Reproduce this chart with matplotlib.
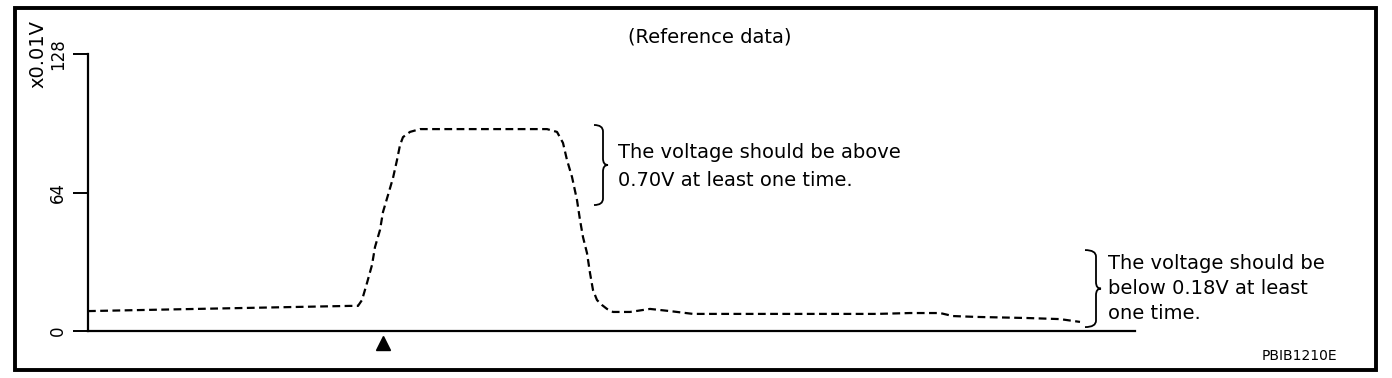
# Reference voltage trace (sensor signal, x0.01V)

import numpy as np
import matplotlib.pyplot as plt
from matplotlib.patches import Rectangle
from matplotlib.path import Path
from matplotlib.patches import PathPatch

# Trace: time (arbitrary units) and voltage (x0.01V)
t = [0, 152, 262, 270, 274, 279, 284, 287, 292, 295, 300, 305, 309, 312, 315,
     322, 332, 459, 469, 475, 479, 484, 489, 492, 495, 499, 502, 505, 509, 514,
     519, 525, 542, 562, 582, 605, 789, 822, 852, 865, 889, 939, 972, 992]
volts = [9.2, 10.6, 11.6, 11.6, 14.3, 22.2, 30.5, 38.8, 46.7, 55.0, 62.8, 70.7,
         79.0, 85.9, 89.6, 92.0, 93.3, 93.3, 92.0, 86.9, 79.0, 71.2, 60.5, 51.3,
         43.4, 36.0, 26.8, 18.9, 14.3, 12.0, 10.2, 8.8, 8.8, 10.2, 9.2, 7.9, 7.9,
         8.3, 8.3, 6.9, 6.5, 6.0, 5.5, 4.2]
y_ticks = [0, 64, 128]
y_labels = ['0', '64', '128']
trigger_t = 295

note_high = 'The voltage should be above\n0.70V at least one time.'
note_low = 'The voltage should be\nbelow 0.18V at least\none time.'

W, H = 1392, 378
fig = plt.figure(figsize=(W / 100, H / 100), dpi=100)
ax = fig.add_axes([88 / W, 47 / H, 1047 / W, 277 / H])

ax.plot(t, volts, color='black', lw=1.6, linestyle=(0, (3.5, 2)))
ax.set_xlim(0, 1047)
ax.set_ylim(0, 128)

for s in ['top', 'right']:
    ax.spines[s].set_visible(False)
for s in ['left', 'bottom']:
    ax.spines[s].set_linewidth(1.6)
ax.set_xticks([])
ax.set_yticks(y_ticks)
ax.set_yticklabels(y_labels, rotation=90, va='center', fontsize=12)
ax.tick_params(axis='y', length=11, width=1.4, pad=4)

# trigger marker below the axis
ax.plot([trigger_t], [-5.6], marker='^', color='black', markersize=10, clip_on=False)


def brace(x_end, x_mid, x_tip, y0, y1, r):
    # right-pointing curly brace, r is the curl height in data units
    ym = (y0 + y1) / 2
    verts = [(x_end, y1), (x_mid, y1), (x_mid, y1 - r),
             (x_mid, ym + r), (x_mid, ym), (x_tip, ym),
             (x_mid, ym), (x_mid, ym - r),
             (x_mid, y0 + r), (x_mid, y0), (x_end, y0)]
    codes = [Path.MOVETO, Path.CURVE3, Path.CURVE3,
             Path.LINETO, Path.CURVE3, Path.CURVE3,
             Path.CURVE3, Path.CURVE3,
             Path.LINETO, Path.CURVE3, Path.CURVE3]
    ax.add_patch(PathPatch(Path(verts, codes), fill=False, lw=1.3,
                           edgecolor='black', clip_on=False))


brace(506, 515, 520, 58.2, 95.2, 3)
brace(997, 1008, 1013, 1.8, 37.4, 3)

ax.text(530, 76.2, note_high, fontsize=14, va='center', ha='left', linespacing=1.6)
ax.text(1020, 19.5, note_low, fontsize=14, va='center', ha='left', linespacing=1.4,
        clip_on=False)

fig.text(710 / W, 1 - 37 / H, '(Reference data)', fontsize=14, ha='center', va='center')
fig.text(38 / W, 1 - 54 / H, 'x0.01V', fontsize=14, rotation=90, ha='center', va='center')
fig.text(1337 / W, 1 - 356 / H, 'PBIB1210E', fontsize=10, ha='right', va='center')

# outer frame
fig.add_artist(Rectangle((15 / W, 8 / H), 1361 / W, 362 / H, transform=fig.transFigure,
                         fill=False, lw=2.8, edgecolor='black'))

plt.savefig('out.png', dpi=100)
